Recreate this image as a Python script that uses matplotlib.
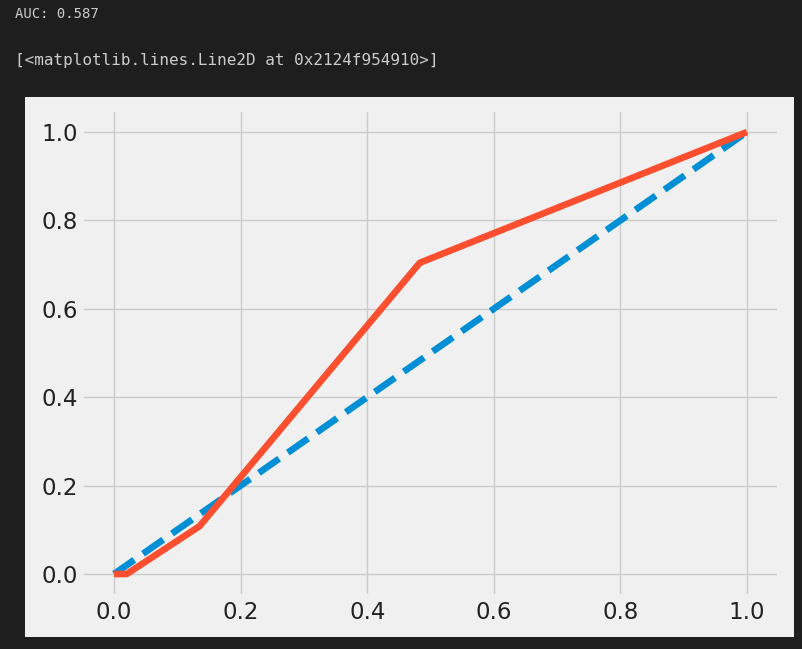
import matplotlib
matplotlib.use("Agg")
import matplotlib.pyplot as plt
from matplotlib.patches import Rectangle

plt.style.use("fivethirtyeight")

# ROC curve points
fpr = [0.0, 0.02, 0.135, 0.483, 1.0]
tpr = [0.0, 0.0, 0.108, 0.704, 1.0]
diag = [0.0, 1.0]
auc_text = "AUC: 0.587"
repr_text = "[<matplotlib.lines.Line2D at 0x2124f954910>]"

W, H = 802, 649
fig = plt.figure(figsize=(W / 100, H / 100), dpi=100, facecolor="#1e1e1e")

# notebook output text
fig.text(15 / W, 1 - 14 / H, auc_text, family="DejaVu Sans Mono", fontsize=10,
         color="#cccccc", va="center", ha="left")
fig.text(15 / W, 1 - 60 / H, repr_text, family="DejaVu Sans Mono", fontsize=11.5,
         color="#cccccc", va="center", ha="left")

# light panel of the inline figure
fig.patches.append(Rectangle((25 / W, 1 - 637 / H), (794 - 25) / W, (637 - 97) / H,
                             transform=fig.transFigure, facecolor="#f0f0f0",
                             edgecolor="none", zorder=-1))

left, right = 82.4 / W, 778.6 / W
bottom, top = 1 - 596.1 / H, 1 - 109.9 / H
ax = fig.add_axes([left, bottom, right - left, top - bottom])
ax.set_zorder(2)
ax.set_facecolor("#f0f0f0")

ax.plot(diag, diag, linestyle="--", color="#008fd5", lw=4.8)
ax.plot(fpr, tpr, color="#fc4f30", lw=4.8)

ax.tick_params(labelsize=16.5, colors="#222222")
for lab in ax.get_xticklabels() + ax.get_yticklabels():
    lab.set_color("#222222")

fig.savefig("out.png", dpi=100, facecolor=fig.get_facecolor())
